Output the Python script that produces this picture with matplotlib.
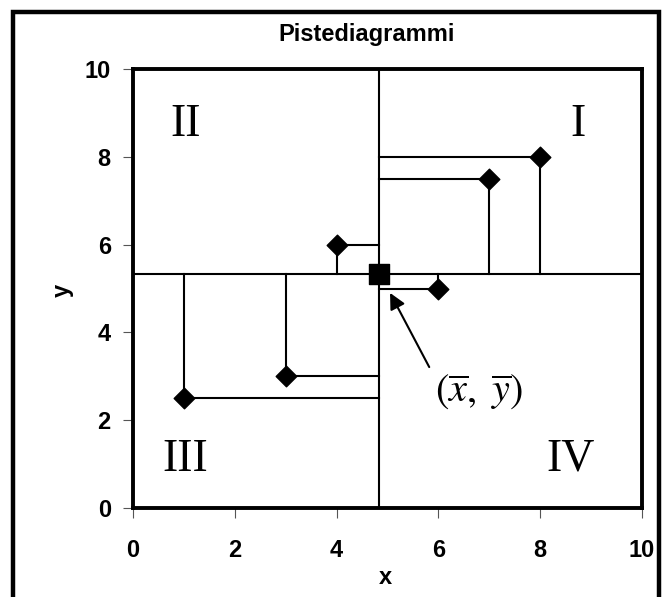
import numpy as np
import matplotlib
matplotlib.use("Agg")
import matplotlib.pyplot as plt
from matplotlib.patches import Rectangle

# data
xs = [1, 3, 4, 6, 7, 8]
ys = [2.5, 3, 6, 5, 7.5, 8]
quadrants = ["I", "II", "III", "IV"]
quad_pos = [(8.74, 8.72), (1.03, 8.72), (1.03, 1.1), (8.6, 1.1)]
ticks = [0, 2, 4, 6, 8, 10]
label_pos = (6.8, 2.64)     # where the (x̄, ȳ) label sits
arrow_tail = (5.82, 3.21)
arrow_tip = (5.05, 4.9)

xbar = np.mean(xs)
ybar = np.mean(ys)

plt.rcParams["font.family"] = ["Liberation Sans", "DejaVu Sans"]
plt.rcParams["mathtext.fontset"] = "stix"

fig = plt.figure(figsize=(6.63, 5.97), dpi=100)
ax = fig.add_axes([133 / 663, 1 - 508 / 597, (642 - 133) / 663, (508 - 69) / 597])

# outer frame around the whole chart
fig.patches.append(Rectangle((13 / 663, -0.05), (659 - 13) / 663, 1.05 - 12 / 597,
                             transform=fig.transFigure, fill=False, lw=3.2,
                             edgecolor="black", zorder=0))

# mean lines
ax.axhline(ybar, color="black", lw=1.5, zorder=2)
ax.axvline(xbar, color="black", lw=1.5, zorder=2)

# deviation lines from each point to the mean lines
for x, y in zip(xs, ys):
    ax.plot([x, x], [y, ybar], color="black", lw=1.5, zorder=2)
    ax.plot([x, xbar], [y, y], color="black", lw=1.5, zorder=2)

ax.scatter(xs, ys, marker="D", s=110, color="black", zorder=4)
ax.scatter([xbar], [ybar], marker="s", s=220, color="black", zorder=5)

for q, (qx, qy) in zip(quadrants, quad_pos):
    ax.text(qx, qy, q, fontsize=33, family="Liberation Serif",
            ha="center", va="center")

ax.text(*label_pos, r"$(\overline{x},\ \overline{y})$", fontsize=29,
        ha="center", va="center")
ax.annotate("", xy=arrow_tip, xytext=arrow_tail,
            arrowprops=dict(arrowstyle="-|>", color="black", lw=1.5,
                            mutation_scale=24, shrinkA=0, shrinkB=0))

ax.set_xlim(0, 10)
ax.set_ylim(0, 10)
ax.set_xticks(ticks)
ax.set_yticks(ticks)
ax.tick_params(direction="out", length=7, width=0.8, color="#555555",
               labelsize=17)
ax.tick_params(axis="x", pad=15)
ax.tick_params(axis="y", pad=9)
for lab in ax.get_xticklabels() + ax.get_yticklabels():
    lab.set_fontweight("bold")
for sp in ax.spines.values():
    sp.set_linewidth(2.8)

fig.text(367 / 663, 1 - 35 / 597, "Pistediagrammi", fontsize=17,
         fontweight="bold", ha="center", va="center")
ax.set_xlabel("x", fontsize=17, fontweight="bold", va="center")
ax.set_ylabel("y", fontsize=17, fontweight="bold", va="center")
ax.xaxis.set_label_coords((385 - 133) / 509, (508 - 578) / 439)
ax.yaxis.set_label_coords((62 - 133) / 509, (508 - 290) / 439)

fig.savefig("out.png", dpi=100)
